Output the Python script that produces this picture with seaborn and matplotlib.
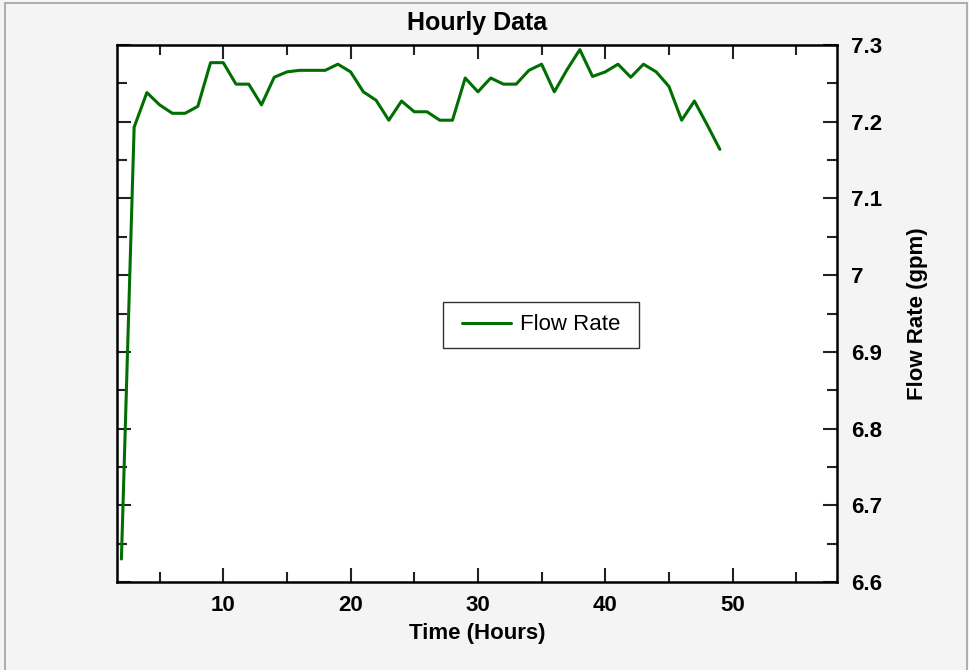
import matplotlib
matplotlib.use("Agg")
import matplotlib.pyplot as plt
from matplotlib.lines import Line2D
from matplotlib.ticker import MultipleLocator
import pandas as pd
import seaborn as sns

sns.set_theme(style="ticks")
plt.rcParams['font.family'] = ['Liberation Sans', 'DejaVu Sans']
plt.rcParams['font.weight'] = 'bold'
plt.rcParams['text.color'] = 'black'
plt.rcParams['axes.labelcolor'] = 'black'
plt.rcParams['xtick.color'] = 'black'
plt.rcParams['ytick.color'] = 'black'

# hourly readings
hours = list(range(2, 50))
flow_rate = [6.630, 7.193, 7.238, 7.222, 7.211, 7.211, 7.220, 7.277, 7.277, 7.249,
             7.249, 7.222, 7.258, 7.265, 7.267, 7.267, 7.267, 7.275, 7.265, 7.239,
             7.228, 7.202, 7.227, 7.213, 7.213, 7.202, 7.202, 7.257, 7.239, 7.257,
             7.249, 7.249, 7.267, 7.275, 7.239, 7.268, 7.294, 7.259, 7.265, 7.275,
             7.258, 7.275, 7.265, 7.246, 7.202, 7.227, 7.196, 7.164]

df = pd.DataFrame({'Time (Hours)': hours, 'Flow Rate (gpm)': flow_rate})

fig = plt.figure(figsize=(9.69, 6.70), dpi=100, facecolor='#f4f4f4')
ax = fig.add_axes([0.1207, 0.1313, 0.7431, 0.8015])
ax.set_facecolor('white')

sns.lineplot(data=df, x='Time (Hours)', y='Flow Rate (gpm)', ax=ax,
             color='#006e00', linewidth=2.2, label='Flow Rate')

ax.set_xlim(1.65, 58.2)
ax.set_ylim(6.6, 7.3)

ax.xaxis.set_major_locator(MultipleLocator(10))
ax.xaxis.set_minor_locator(MultipleLocator(5))
ax.yaxis.set_minor_locator(MultipleLocator(0.05))
ax.set_yticks([6.6, 6.7, 6.8, 6.9, 7.0, 7.1, 7.2, 7.3])
ax.set_yticklabels(['6.6', '6.7', '6.8', '6.9', '7', '7.1', '7.2', '7.3'])

ax.yaxis.tick_right()
ax.yaxis.set_label_position('right')
ax.tick_params(which='both', direction='in', top=True, bottom=True, left=True, right=True,
               labelleft=False, labelright=True, labeltop=False, labelbottom=True,
               color='#222222', width=1.5, labelsize=16)
ax.tick_params(which='major', length=10)
ax.tick_params(which='minor', length=7)
ax.tick_params(axis='x', pad=9.5)
ax.tick_params(axis='y', pad=10)

for sp in ax.spines.values():
    sp.set_visible(True)
    sp.set_color('black')
    sp.set_linewidth(1.8)

ax.set_xlabel('Time (Hours)', fontsize=16, fontweight='bold', labelpad=5)
ax.set_ylabel('Flow Rate (gpm)', fontsize=16, fontweight='bold', labelpad=18)
ax.set_title('Hourly Data', fontsize=18, fontweight='bold', pad=11)

leg = ax.legend(loc='center', bbox_to_anchor=(0.589, 0.479), fontsize=16,
                frameon=True, fancybox=False, handlelength=2.2, handletextpad=0.4,
                borderpad=0.45)
frame = leg.get_frame()
frame.set_edgecolor('black')
frame.set_linewidth(1.0)
frame.set_boxstyle('square', pad=0.4)
frame.set_mutation_aspect(0.25)
for t in leg.get_texts():
    t.set_fontweight('normal')

# window border
for xs, ys in [([5 / 969, 967 / 969], [1 - 3 / 670, 1 - 3 / 670]),
               ([5 / 969, 5 / 969], [0, 1 - 3 / 670]),
               ([967 / 969, 967 / 969], [0, 1 - 3 / 670])]:
    fig.add_artist(Line2D(xs, ys, color='#a0a0a0', linewidth=1.2))

fig.savefig('out.png', dpi=100, facecolor=fig.get_facecolor())
